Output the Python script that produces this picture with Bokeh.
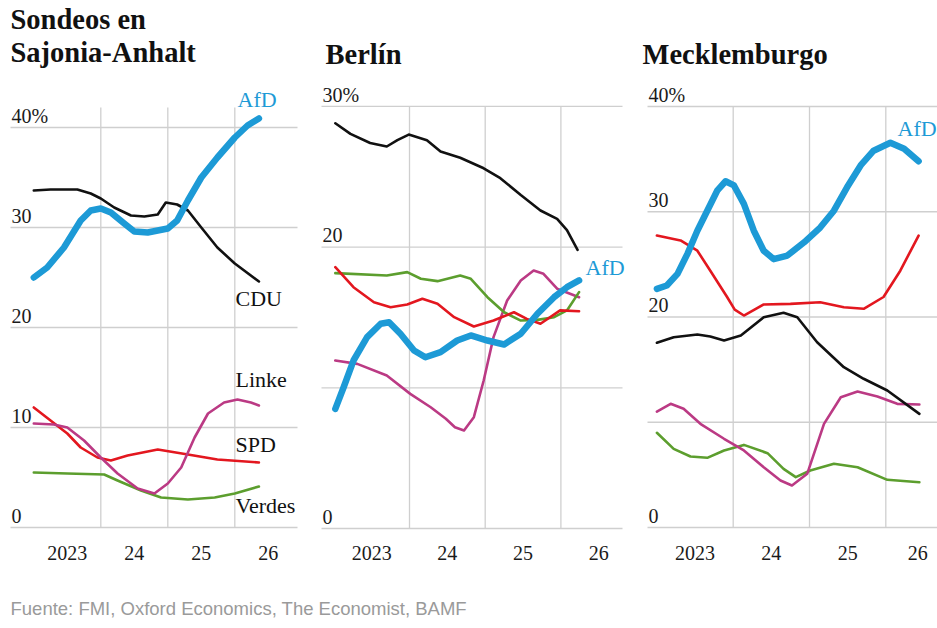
from bokeh.plotting import figure
from bokeh.layouts import row, column
from bokeh.models import Range1d
from bokeh.core.properties import value
from bokeh.embed import file_html
from bokeh.resources import INLINE

# ---------------- data ----------------
year_labels = ["2023", "24", "25", "26"]
year_mid = [2023.5, 2024.5, 2025.5, 2026.5]
year_mid_meck = [2023.5, 2024.5, 2025.5, 2026.42]
year_bounds = [2024, 2025, 2026]

# Sajonia-Anhalt
sa_ticks = [0, 10, 20, 30, 40]
sa_tick_labels = ["0", "10", "20", "30", "40%"]
sa_afd_x = [2023.0, 2023.2, 2023.45, 2023.7, 2023.85, 2024.0, 2024.15, 2024.35, 2024.5, 2024.7,
            2025.0, 2025.14, 2025.3, 2025.5, 2025.74, 2026.0, 2026.19, 2026.36]
sa_afd_y = [25.0, 26.0, 28.0, 30.7, 31.7, 31.9, 31.5, 30.4, 29.6, 29.5,
            29.9, 30.7, 32.7, 35.0, 37.0, 39.0, 40.2, 40.9]
sa_cdu_x = [2023.0, 2023.25, 2023.65, 2023.85, 2024.0, 2024.2, 2024.45, 2024.65, 2024.85, 2024.97,
            2025.14, 2025.3, 2025.5, 2025.74, 2026.0, 2026.36]
sa_cdu_y = [33.7, 33.8, 33.8, 33.4, 32.9, 32.0, 31.2, 31.1, 31.3, 32.5,
            32.3, 31.7, 30.0, 28.0, 26.4, 24.6]
sa_linke_x = [2023.0, 2023.3, 2023.5, 2023.75, 2024.0, 2024.25, 2024.55, 2024.8, 2025.0, 2025.2,
              2025.4, 2025.6, 2025.84, 2026.04, 2026.24, 2026.36]
sa_linke_y = [10.4, 10.3, 10.0, 8.7, 7.0, 5.4, 3.9, 3.4, 4.4, 6.0,
              9.0, 11.4, 12.5, 12.8, 12.5, 12.2]
sa_spd_x = [2023.0, 2023.25, 2023.5, 2023.7, 2023.95, 2024.15, 2024.4, 2024.85, 2025.3, 2025.74, 2026.36]
sa_spd_y = [12.0, 10.7, 9.4, 8.0, 7.0, 6.7, 7.2, 7.8, 7.3, 6.8, 6.5]
sa_verdes_x = [2023.0, 2023.5, 2024.05, 2024.25, 2024.6, 2024.9, 2025.3, 2025.7, 2026.0, 2026.36]
sa_verdes_y = [5.5, 5.4, 5.3, 4.7, 3.7, 3.0, 2.8, 3.0, 3.4, 4.1]

# Berlin
be_ticks = [0, 10, 20, 30]
be_label_ticks = [0, 20, 30]
be_tick_labels = ["0", "20", "30%"]
be_cdu_x = [2023.02, 2023.22, 2023.48, 2023.7, 2023.84, 2023.99, 2024.23, 2024.41, 2024.67, 2024.98,
            2025.2, 2025.47, 2025.73, 2025.95, 2026.08, 2026.22]
be_cdu_y = [28.8, 28.05, 27.4, 27.15, 27.6, 28.0, 27.6, 26.8, 26.35, 25.6,
            24.9, 23.7, 22.6, 22.0, 21.2, 19.8]
be_verdes_x = [2023.02, 2023.7, 2023.97, 2024.15, 2024.37, 2024.67, 2024.81, 2025.03, 2025.25,
               2025.47, 2025.69, 2025.91, 2026.08, 2026.24]
be_verdes_y = [18.15, 17.98, 18.22, 17.75, 17.58, 17.98, 17.75, 16.44, 15.37,
               14.78, 14.83, 15.02, 15.5, 16.8]
be_spd_x = [2023.02, 2023.26, 2023.53, 2023.75, 2023.97, 2024.17, 2024.37, 2024.59, 2024.85, 2025.11,
            2025.38, 2025.55, 2025.73, 2025.99, 2026.24]
be_spd_y = [18.57, 17.15, 16.08, 15.73, 15.92, 16.33, 15.97, 15.02, 14.36, 14.78,
            15.37, 14.9, 14.55, 15.5, 15.44]
be_linke_x = [2023.02, 2023.31, 2023.7, 2024.01, 2024.28, 2024.48, 2024.6, 2024.72, 2024.85, 2024.98,
              2025.11, 2025.29, 2025.47, 2025.64, 2025.77, 2025.95, 2026.24]
be_linke_y = [11.94, 11.7, 10.87, 9.57, 8.62, 7.8, 7.2, 6.97, 7.91, 10.52,
              13.6, 16.2, 17.63, 18.34, 18.1, 17.04, 16.44]
be_afd_x = [2023.02, 2023.13, 2023.26, 2023.44, 2023.62, 2023.73, 2023.88, 2024.06, 2024.21, 2024.41,
            2024.63, 2024.81, 2025.03, 2025.25, 2025.47, 2025.69, 2025.91, 2026.08, 2026.24]
be_afd_y = [8.5, 10.04, 11.94, 13.6, 14.55, 14.66, 13.84, 12.65, 12.17, 12.53,
            13.36, 13.72, 13.36, 13.08, 13.84, 15.26, 16.44, 17.15, 17.63]

# Mecklemburgo
me_ticks = [0, 10, 20, 30, 40]
me_label_ticks = [0, 20, 30, 40]
me_tick_labels = ["0", "20", "30", "40%"]
me_afd_x = [2023.0, 2023.13, 2023.27, 2023.4, 2023.53, 2023.66, 2023.79, 2023.9, 2024.01, 2024.14,
            2024.27, 2024.4, 2024.53, 2024.71, 2024.93, 2025.14, 2025.32, 2025.49, 2025.67, 2025.84,
            2026.06, 2026.24, 2026.43]
me_afd_y = [22.68, 22.99, 24.1, 26.0, 28.2, 30.1, 32.0, 32.9, 32.5, 30.75,
            28.2, 26.3, 25.5, 25.84, 27.1, 28.5, 30.1, 32.3, 34.4, 35.8,
            36.55, 35.98, 34.8]
me_spd_x = [2023.0, 2023.31, 2023.53, 2023.7, 2023.92, 2024.02, 2024.14, 2024.4, 2024.75, 2025.14,
            2025.45, 2025.71, 2025.97, 2026.19, 2026.43]
me_spd_y = [27.74, 27.27, 26.3, 24.4, 21.9, 20.7, 20.14, 21.19, 21.25, 21.4,
            20.93, 20.78, 21.9, 24.4, 27.74]
me_cdu_x = [2023.0, 2023.22, 2023.53, 2023.7, 2023.88, 2024.1, 2024.4, 2024.66, 2024.84, 2025.1,
            2025.45, 2025.71, 2026.02, 2026.44]
me_cdu_y = [17.55, 18.08, 18.34, 18.15, 17.77, 18.24, 19.98, 20.4, 19.98, 17.6,
            15.23, 14.13, 13.02, 10.8]
me_linke_x = [2023.0, 2023.18, 2023.35, 2023.57, 2023.88, 2024.14, 2024.4, 2024.62, 2024.77, 2024.97,
              2025.19, 2025.41, 2025.63, 2025.89, 2026.15, 2026.44]
me_linke_y = [11.02, 11.75, 11.28, 9.85, 8.43, 7.32, 5.73, 4.47, 3.99, 5.1,
              9.85, 12.38, 12.92, 12.45, 11.75, 11.69]
me_verdes_x = [2023.0, 2023.22, 2023.44, 2023.66, 2023.88, 2024.14, 2024.45, 2024.66, 2024.82, 2025.01,
               2025.32, 2025.63, 2026.02, 2026.44]
me_verdes_y = [9.0, 7.47, 6.75, 6.62, 7.32, 7.85, 7.06, 5.57, 4.78, 5.42,
               6.05, 5.73, 4.53, 4.3]

source_text = "Fuente: FMI, Oxford Economics, The Economist, BAMF"

# ---------------- style / layout ----------------
COL = {"AfD": "#1d9ad6", "CDU": "#111111", "SPD": "#e3171f",
       "Linke": "#bb3a84", "Verdes": "#5c9e2e"}
GRID = "#cfcfcf"
SERIF = value("Liberation Serif")
SANS = value("Liberation Sans")
H = 590          # height of the panel row
HS = 38          # height of the source strip
BASE_SHIFT = 0.37  # alphabetic baseline correction (em)


def panel(left, width, x0, px, y0, py):
    def fx(page_x):
        return 2023 + (page_x - x0) / px

    def fy(page_y):
        return (y0 - page_y) / py

    p = figure(width=width, height=H,
               x_range=Range1d(fx(left), fx(left + width)),
               y_range=Range1d(fy(H), fy(0)),
               output_backend="svg", toolbar_location=None,
               x_axis_location=None, y_axis_location=None, min_border=0)
    p.title_location = None
    p.grid.visible = False
    p.outline_line_color = None
    p.background_fill_color = "white"
    p.border_fill_color = "white"
    return p, fx, fy


def tx(p, fx, fy, xs, ys_base, texts, size, color, align="left", style="normal", font=SERIF):
    p.text(x=[fx(v) for v in xs], y=[fy(b - BASE_SHIFT * size) for b in ys_base], text=texts,
           text_font=font, text_font_size=f"{size}px", text_font_style=style,
           text_color=color, text_align=align, text_baseline="alphabetic")


def grid_and_axes(p, fx, fy, py, ticks, lab_ticks, lab_text, gl, gr, top, mids):
    n = len(ticks)
    p.segment(x0=[fx(gl)] * n, x1=[fx(gr)] * n, y0=ticks, y1=ticks,
              line_color=GRID, line_width=1.3)
    m = len(year_bounds)
    p.segment(x0=year_bounds, x1=year_bounds, y0=[0] * m, y1=[top] * m,
              line_color=GRID, line_width=1.3)
    # value labels sit just above their gridline
    sz = 20
    p.text(x=[fx(gl + 1)] * len(lab_ticks),
           y=[t + (4.5 + BASE_SHIFT * sz) / py for t in lab_ticks], text=lab_text,
           text_font=SERIF, text_font_size=f"{sz}px", text_color="#1a1a1a",
           text_align="left", text_baseline="alphabetic")
    p.text(x=mids, y=[fy(560 - BASE_SHIFT * sz)] * len(mids), text=year_labels,
           text_font=SERIF, text_font_size=f"{sz}px", text_color="#1a1a1a",
           text_align="center", text_baseline="alphabetic")


def series(p, xs, ys, col, w):
    p.line(xs, ys, line_color=col, line_width=w, line_join="round", line_cap="round")


TSZ = 28.5  # title size
LSZ = 22    # direct label size

# ---- Sajonia-Anhalt ----
p1, fx1, fy1 = panel(0, 310, 33.3, 67.0, 527.0, 10.0)
grid_and_axes(p1, fx1, fy1, 10.0, sa_ticks, sa_ticks, sa_tick_labels, 10, 297, 42, year_mid)
series(p1, sa_verdes_x, sa_verdes_y, COL["Verdes"], 2.6)
series(p1, sa_spd_x, sa_spd_y, COL["SPD"], 2.6)
series(p1, sa_linke_x, sa_linke_y, COL["Linke"], 2.6)
series(p1, sa_cdu_x, sa_cdu_y, COL["CDU"], 2.6)
series(p1, sa_afd_x, sa_afd_y, COL["AfD"], 6.5)
tx(p1, fx1, fy1, [10, 10], [30, 63], ["Sondeos en", "Sajonia-Anhalt"], TSZ, "#111111", style="bold")
tx(p1, fx1, fy1, [237], [107], ["AfD"], LSZ, COL["AfD"])
tx(p1, fx1, fy1, [235, 235, 235, 235], [306, 387, 452, 513], ["CDU", "Linke", "SPD", "Verdes"],
   LSZ, "#111111")

# ---- Berlin ----
p2, fx2, fy2 = panel(310, 320, 333.3, 75.7, 528.0, 14.07)
grid_and_axes(p2, fx2, fy2, 14.07, be_ticks, be_label_ticks, be_tick_labels, 321, 622, 30, year_mid)
series(p2, be_linke_x, be_linke_y, COL["Linke"], 2.6)
series(p2, be_verdes_x, be_verdes_y, COL["Verdes"], 2.6)
series(p2, be_spd_x, be_spd_y, COL["SPD"], 2.6)
series(p2, be_cdu_x, be_cdu_y, COL["CDU"], 2.6)
series(p2, be_afd_x, be_afd_y, COL["AfD"], 6.5)
tx(p2, fx2, fy2, [325], [65], ["Berlín"], TSZ, "#111111", style="bold")
tx(p2, fx2, fy2, [585], [275], ["AfD"], LSZ, COL["AfD"])

# ---- Mecklemburgo ----
p3, fx3, fy3 = panel(630, 307, 656.4, 76.3, 527.0, 10.525)
grid_and_axes(p3, fx3, fy3, 10.525, me_ticks, me_label_ticks, me_tick_labels, 647, 937, 40, year_mid_meck)
series(p3, me_verdes_x, me_verdes_y, COL["Verdes"], 2.6)
series(p3, me_linke_x, me_linke_y, COL["Linke"], 2.6)
series(p3, me_cdu_x, me_cdu_y, COL["CDU"], 2.6)
series(p3, me_spd_x, me_spd_y, COL["SPD"], 2.6)
series(p3, me_afd_x, me_afd_y, COL["AfD"], 6.5)
tx(p3, fx3, fy3, [642], [65], ["Mecklemburgo"], TSZ, "#111111", style="bold")
tx(p3, fx3, fy3, [897], [136], ["AfD"], LSZ, COL["AfD"])

# ---- source strip ----
ps = figure(width=937, height=HS, x_range=Range1d(0, 937), y_range=Range1d(0, HS),
            output_backend="svg", toolbar_location=None,
            x_axis_location=None, y_axis_location=None, min_border=0)
ps.title_location = None
ps.grid.visible = False
ps.outline_line_color = None
SSZ = 18.5
ps.text(x=[10], y=[(H + HS) - 615 + BASE_SHIFT * SSZ], text=[source_text], text_font=SANS,
        text_font_size=f"{SSZ}px", text_color="#9a9a9a", text_align="left", text_baseline="alphabetic")

layout = column(row(p1, p2, p3), ps)
open("out.html", "w").write(file_html(layout, INLINE))
